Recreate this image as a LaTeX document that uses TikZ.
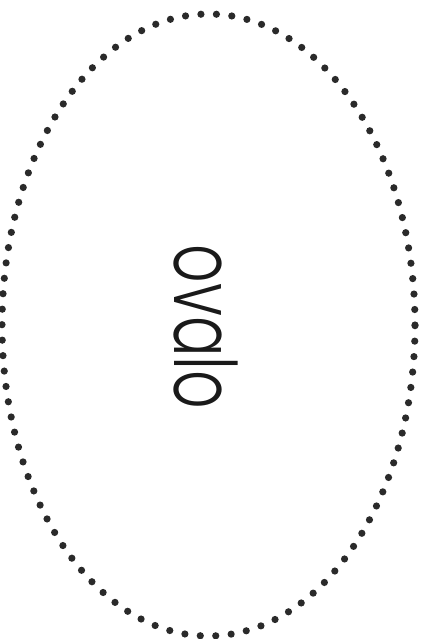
\documentclass[tikz,border=0pt]{standalone}
\usepackage{fontspec}
\usepackage{graphicx}
\newfontfamily\ovalfont{Poppins Light}
\definecolor{dotgray}{HTML}{2A2A2A}
\definecolor{textink}{HTML}{1A1A1A}
\tikzset{
  dotline/.style={draw=dotgray, line width=7.2pt, line cap=round, dash pattern=on 0pt off 15.49pt},
  ovaltext/.style={rotate=-90, anchor=base, inner sep=0pt, text=textink,
    font=\ovalfont\fontsize{86}{86}\selectfont}
}
\begin{document}
\begin{tikzpicture}[x=1pt,y=1pt]
\useasboundingbox (0,0) rectangle (426,-639);
\path[dotline] (208.5,-325) ellipse [x radius=206.5pt, y radius=311pt];
\node[ovaltext] (label) at (174,-327) {\scalebox{0.7}[1]{ovalo}};
\end{tikzpicture}
\end{document}
